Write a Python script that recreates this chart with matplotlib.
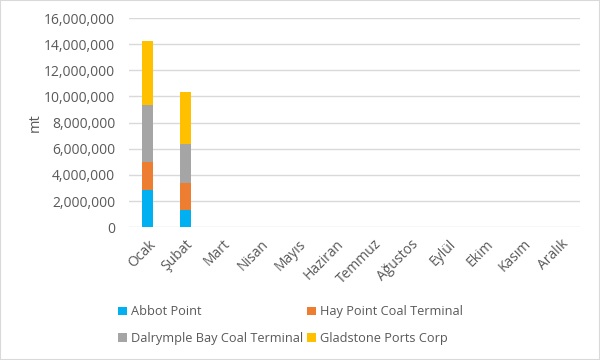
import matplotlib
matplotlib.use("Agg")
import matplotlib.pyplot as plt
import numpy as np
from matplotlib.ticker import FuncFormatter, MultipleLocator
from matplotlib.patches import Rectangle

months = ["Ocak", "Şubat", "Mart", "Nisan", "Mayıs", "Haziran", "Temmuz",
          "Ağustos", "Eylül", "Ekim", "Kasım", "Aralık"]
abbot = [2830000, 1300000] + [0] * 10
hay = [2150000, 2090000] + [0] * 10
dalrymple = [4360000, 2970000] + [0] * 10
gladstone = [4900000, 4000000] + [0] * 10
series_names = ["Abbot Point", "Hay Point Coal Terminal",
                "Dalrymple Bay Coal Terminal", "Gladstone Ports Corp"]
colors = ["#00B0F0", "#ED7D31", "#A5A5A5", "#FFC000"]

plt.rcParams['font.family'] = ['Open Sans', 'DejaVu Sans']
fig = plt.figure(figsize=(6, 3.6), dpi=100)
ax = fig.add_axes([0.215, 0.369, 0.752, 0.581])

x = np.arange(len(months))
bottom = np.zeros(len(months))
handles = []
for vals, name, c in zip([abbot, hay, dalrymple, gladstone], series_names, colors):
    v = np.array(vals, dtype=float)
    h = ax.bar(x, v, bottom=bottom, width=0.3, color=c, label=name, zorder=3)
    handles.append(h)
    bottom += v

ax.set_xlim(-0.5, len(months) - 0.5)
ax.set_ylim(0, 16000000)
ax.yaxis.set_major_locator(MultipleLocator(2000000))
ax.yaxis.set_major_formatter(FuncFormatter(lambda v, p: f"{int(v):,}"))
ax.grid(axis='y', color='#D9D9D9', linewidth=1, zorder=0)
for s in ax.spines.values():
    s.set_visible(False)
ax.tick_params(axis='both', length=0, colors='#595959')
ax.tick_params(axis='y', pad=10, labelsize=10)
ax.tick_params(axis='x', pad=7, labelsize=10)
ax.set_xticks(x)
ax.set_xticklabels(months, rotation=45, ha='right', rotation_mode='anchor')
ax.set_ylabel("mt", color='#595959', fontsize=10.5, labelpad=1)

order = [0, 2, 1, 3]
fig.legend(handles=[handles[i] for i in order],
           labels=[series_names[i] for i in order], loc='lower left',
           bbox_to_anchor=(0.178, 0.01), ncol=2, frameon=False, fontsize=9.2,
           labelcolor='#595959', handlelength=0.7, handleheight=0.7,
           handletextpad=0.3, columnspacing=0.3, labelspacing=1.05)

fig.patches.append(Rectangle((0, 0), 1, 1, transform=fig.transFigure,
                             fill=False, edgecolor='#D9D9D9', linewidth=1.5))
fig.savefig("out.png", dpi=100, facecolor='white')
